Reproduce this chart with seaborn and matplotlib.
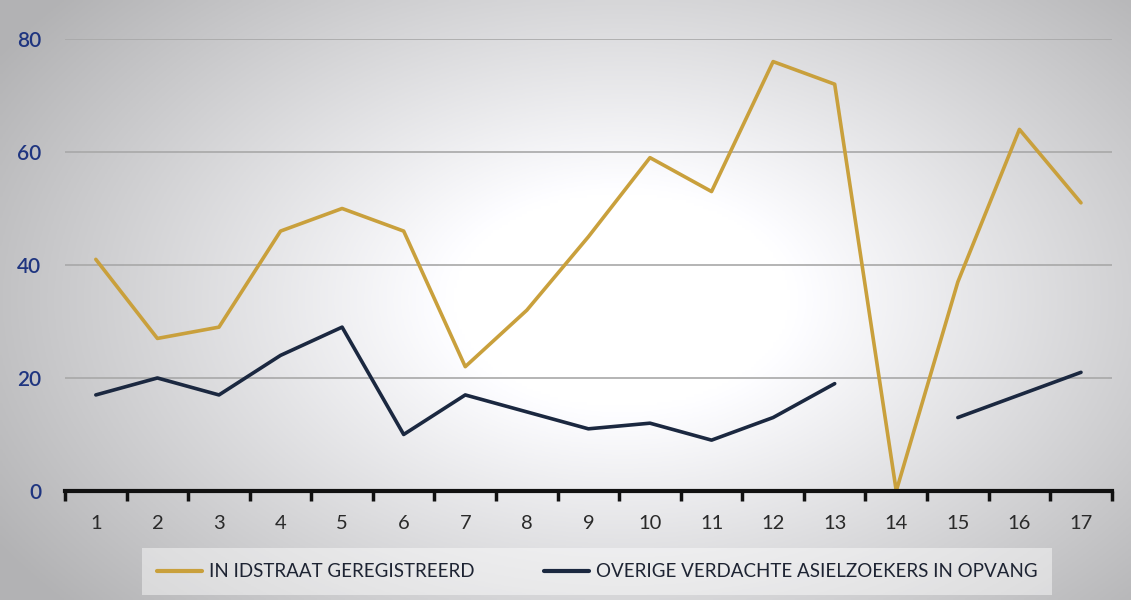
import numpy as np
import pandas as pd
import matplotlib
matplotlib.use("Agg")
import matplotlib.pyplot as plt
import seaborn as sns

# data
weeks = list(range(1, 18))
idstraat = [41, 27, 29, 46, 50, 46, 22, 32, 45, 59, 53, 76, 72, 0, 37, 64, 51]
overige = [17, 20, 17, 24, 29, 10, 17, 14, 11, 12, 9, 13, 19, np.nan, 13, 17, 21]
series_names = ["IN IDSTRAAT GEREGISTREERD", "OVERIGE VERDACHTE ASIELZOEKERS IN OPVANG"]
colors = ["#c9a03c", "#1b2840"]
yticks = [0, 20, 40, 60, 80]


def to_long(values, name):
    # split into segments so gaps (NaN) break the line
    rows = []
    seg = 0
    for w, v in zip(weeks, values):
        if np.isnan(v):
            seg += 1
            continue
        rows.append({"week": w, "value": v, "series": name, "segment": f"{name}-{seg}"})
    return rows


df = pd.DataFrame(to_long(idstraat, series_names[0]) + to_long(overige, series_names[1]))

sns.set_style("white")
plt.rcParams["font.family"] = ["Lato", "DejaVu Sans"]

fig = plt.figure(figsize=(11.31, 6), dpi=100)

# vignette background (grey edges, white centre)
bg = fig.add_axes([0, 0, 1, 1], zorder=-5)
gx, gy = np.meshgrid(np.linspace(0, 1, 400), np.linspace(0, 1, 220))
d = np.sqrt(((gx - 0.55) / 0.5) ** 2 + ((gy - 0.5) / 0.6) ** 2)
shade = 1 - 0.30 * np.clip(d - 0.3, 0, 1) ** 1.0
img = np.dstack([shade, shade, shade * 1.01])
bg.imshow(np.clip(img, 0, 1), extent=[0, 1, 0, 1], aspect="auto", origin="lower")
bg.axis("off")

ax = fig.add_axes([0.0575, 0.1817, 0.9255, 0.7533])
ax.patch.set_alpha(0)

sns.lineplot(data=df, x="week", y="value", hue="series", units="segment",
             estimator=None, palette=dict(zip(series_names, colors)),
             linewidth=2.6, ax=ax, legend=False)

ax.set_xlim(0.5, 17.5)
ax.set_ylim(0, 80)
ax.set_yticks(yticks)
ax.set_yticklabels([str(t) for t in yticks], color="#1f3580", fontsize=15,
                   fontweight="semibold")
ax.set_xticks(weeks)
ax.set_xticklabels([str(w) for w in weeks], color="#2a2a2a", fontsize=14.5)
ax.set_xticks(np.arange(0.5, 18, 1), minor=True)
ax.tick_params(axis="x", which="major", length=0, pad=17)
ax.tick_params(axis="x", which="minor", bottom=True, length=7, width=2.5,
               color="#111111", direction="out")
ax.tick_params(axis="y", length=0, pad=17)
for t in yticks[1:]:
    ax.axhline(t, color="#a8a8a8", linewidth=1.2, zorder=0)
ax.set_xlabel("")
ax.set_ylabel("")
for side in ["top", "right", "left"]:
    ax.spines[side].set_visible(False)
ax.spines["bottom"].set_color("#111111")
ax.spines["bottom"].set_linewidth(3)

# legend box
handles = [plt.Line2D([], [], color=c, linewidth=3) for c in colors]
leg = fig.legend(handles, series_names, loc="center", ncol=2,
                 bbox_to_anchor=(0.528, 0.047), frameon=True, fontsize=13.5,
                 handlelength=2.4, handletextpad=0.37, columnspacing=3.7,
                 borderpad=0.8, fancybox=False)
leg.get_frame().set_facecolor("white")
leg.get_frame().set_alpha(0.45)
leg.get_frame().set_edgecolor("none")
for txt in leg.get_texts():
    txt.set_color("#1e2433")

fig.savefig("out.png", dpi=100)
